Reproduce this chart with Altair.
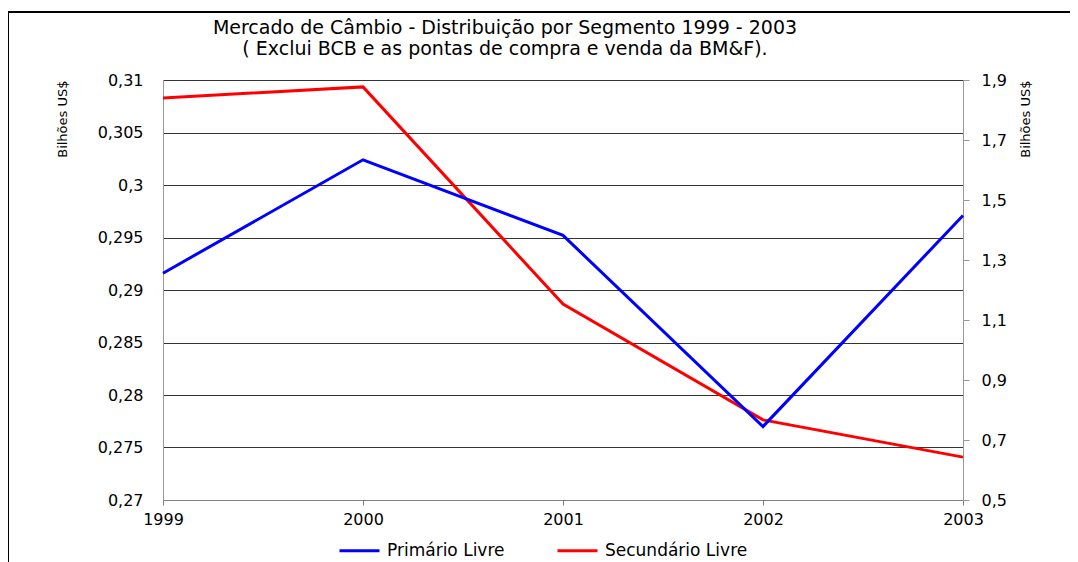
import altair as alt
import pandas as pd

years = [1999, 2000, 2001, 2002, 2003]
primario = [0.2916, 0.3024, 0.2952, 0.2770, 0.2971]
secundario = [1.840, 1.877, 1.153, 0.767, 0.643]
series = ["Primário Livre", "Secundário Livre"]
colors = ["#0000FF", "#FF0000"]
left_ticks = [0.27, 0.275, 0.28, 0.285, 0.29, 0.295, 0.30, 0.305, 0.31]
right_ticks = [0.5, 0.7, 0.9, 1.1, 1.3, 1.5, 1.7, 1.9]
title_lines = ["Mercado de Câmbio - Distribuição por Segmento  1999 - 2003",
               "(  Exclui BCB e as pontas de compra e venda da BM&F)."]

df1 = pd.DataFrame({"ano": years, "valor": primario, "serie": series[0]})
df2 = pd.DataFrame({"ano": years, "valor": secundario, "serie": series[1]})

FONT = "DejaVu Sans"
label_expr = "replace(format(datum.value, '.6~r'), '.', ',')"

xenc = alt.X("ano:Q", scale=alt.Scale(domain=[1999, 2003], nice=False),
             axis=alt.Axis(values=years, format="d", title=None, grid=False,
                           domainColor="#808080", tickColor="#808080", tickSize=5,
                           labelPadding=6, labelFontSize=16, labelFont=FONT,
                           labelColor="#000", labelFlush=False))

color = alt.Color("serie:N", scale=alt.Scale(domain=series, range=colors),
                  legend=alt.Legend(title=None, orient="none", direction="horizontal",
                                    legendX=175, legendY=449, symbolType="stroke",
                                    symbolSize=1600, symbolStrokeWidth=3,
                                    labelFontSize=17, labelFont=FONT, labelColor="#000",
                                    columnPadding=46, labelOffset=6))

blue = alt.Chart(df1).mark_line(strokeWidth=3).encode(
    x=xenc,
    y=alt.Y("valor:Q", scale=alt.Scale(domain=[0.27, 0.31], nice=False, zero=False),
            axis=alt.Axis(values=left_ticks, orient="left", title="Bilhões US$",
                          labelExpr=label_expr, grid=True, gridColor="#333333",
                          gridWidth=1, ticks=False, domainColor="#999999",
                          labelPadding=20, labelFontSize=16, labelFont=FONT,
                          labelColor="#000", titleFont=FONT, titleFontSize=13,
                          titleFontWeight="normal", titleAngle=-90, titleX=-101,
                          titleY=0, titleAlign="right", titleBaseline="middle",
                          titleColor="#000")),
    color=color,
)

red = alt.Chart(df2).mark_line(strokeWidth=3).encode(
    x=xenc,
    y=alt.Y("valor:Q", scale=alt.Scale(domain=[0.5, 1.9], nice=False, zero=False),
            axis=alt.Axis(values=right_ticks, orient="right", title="Bilhões US$",
                          labelExpr=label_expr, grid=False, ticks=True, tickSize=6,
                          tickColor="#999999", domainColor="#999999",
                          labelPadding=12, labelFontSize=16, labelFont=FONT,
                          labelColor="#000", titleFont=FONT, titleFontSize=13,
                          titleFontWeight="normal", titleAngle=-90, titleX=62,
                          titleY=0, titleAlign="right", titleBaseline="middle",
                          titleColor="#000")),
    color=color,
)

frame = alt.Chart(alt.Data(values=[{"a": 1}])).mark_rect(
    filled=False, stroke="#000", strokeWidth=2
).encode(x=alt.value(-155), x2=alt.value(940), y=alt.value(-68), y2=alt.value(520))

title_df = pd.DataFrame({"linha": [0, 1], "texto": title_lines})
title = alt.Chart(title_df).mark_text(
    font=FONT, fontSize=19, color="#000", align="center", baseline="middle"
).encode(
    text="texto:N",
    x=alt.value(342),
    y=alt.Y("linha:Q", axis=None,
            scale=alt.Scale(domain=[0, 1], range=[-52, -31], nice=False, zero=False)),
)

chart = alt.layer(frame, red, blue, title).resolve_scale(y="independent").properties(
    width=800, height=420,
    padding={"left": 155, "top": 72, "right": 107, "bottom": 62},
    autosize=alt.AutoSizeParams(type="none"),
).configure_view(stroke=None).configure(background="white")

chart.save("out.html", embed_options={"renderer": "svg", "actions": False})
